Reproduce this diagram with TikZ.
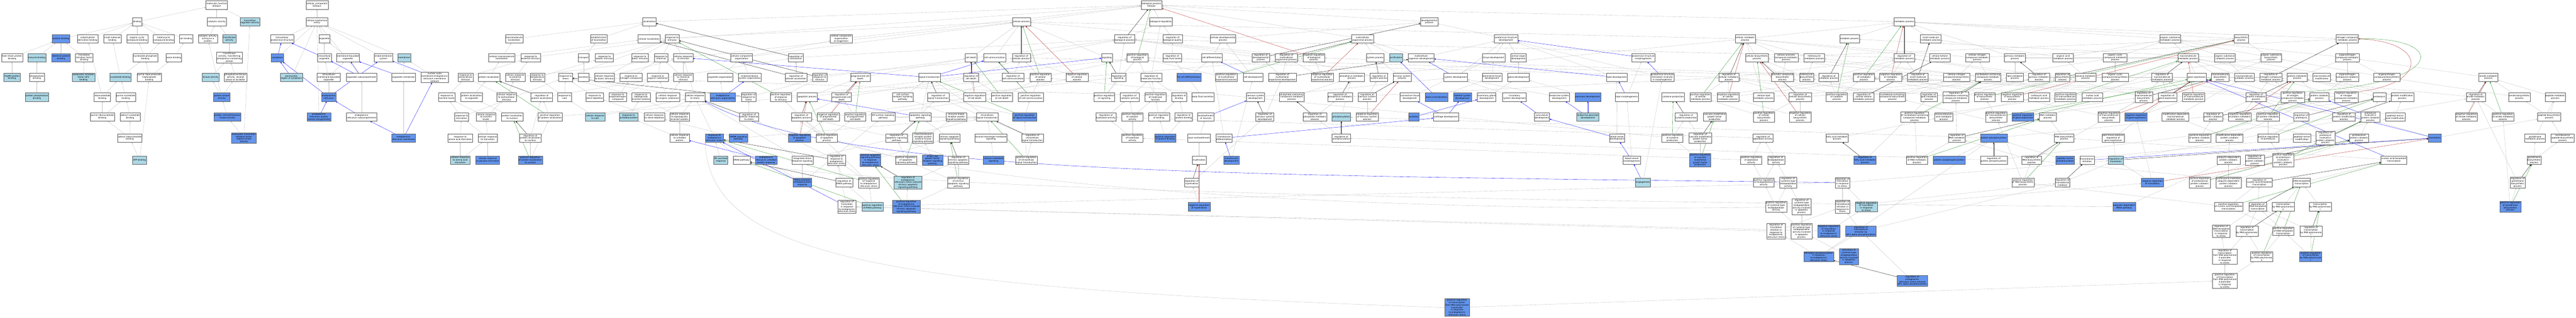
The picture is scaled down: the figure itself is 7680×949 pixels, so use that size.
\documentclass[tikz,border=0pt]{standalone}
\usepackage{fontspec}
\newfontfamily\gof{DejaVu Sans}
\usetikzlibrary{arrows.meta,backgrounds}
\definecolor{lightb}{HTML}{ADD8E6}
\definecolor{cornf}{HTML}{6495ED}
\definecolor{edgec}{RGB}{192,192,192}
\definecolor{egreen}{HTML}{228B22}
\definecolor{ered}{HTML}{B22222}
\newcommand{\gofnt}{\gof\fontsize{6.4}{7.3}\selectfont}
\tikzset{
 gonode/.style={draw=black!65, line width=0.7pt, fill=white, align=center, font=\gofnt, inner xsep=1.6pt, inner ysep=1.8pt, minimum height=25pt},
 lb/.style={gonode, fill=lightb},
 cb/.style={gonode, fill=cornf},
 egray/.style={draw=edgec, line width=0.55pt, -{Triangle[length=4.5pt,width=3.6pt]}},
 eblk/.style={egray, draw=black},
 eblu/.style={egray, draw=blue},
 egrn/.style={egray, draw=egreen},
 ered/.style={egray, draw=ered},
}
\begin{document}
\begin{tikzpicture}[x=1pt,y=-1pt]
\useasboundingbox (0,0) rectangle (7680,949);
% ---------------- molecular function ----------------
\node[gonode] (mf) at (646,15) {molecular\_function\\Eif2ak3};
\node[gonode] (bind) at (409,65) {binding};
\node[gonode] (cat) at (646,65) {catalytic activity};
\node[lb] (trreg) at (745,65) {translation\\regulator activity};
\node[cb] (pb) at (182,116) {protein binding};
\node[gonode] (cdb) at (261,116) {carbohydrate\\derivative binding};
\node[gonode] (smb) at (335,116) {small molecule\\binding};
\node[gonode] (occb) at (409,116) {organic cyclic\\compound binding};
\node[gonode] (hcb) at (488,116) {heterocyclic\\compound binding};
\node[gonode] (ionb) at (555,116) {ion binding};
\node[gonode] (catp) at (620,116) {catalytic activity,\\acting on a\\protein};
\node[lb] (trf) at (684,116) {transferase\\activity};
\node[gonode] (hspb) at (36,172) {heat shock protein\\binding};
\node[lb] (enzb) at (110,172) {enzyme binding};
\node[cb] (idpb) at (182,172) {identical protein\\binding};
\node[gonode] (tifb) at (251,172) {translation\\initiation factor\\binding};
\node[gonode] (npb) at (433,172) {nucleoside phosphate\\binding};
\node[gonode] (anb) at (518,172) {anion binding};
\node[gonode] (trfp) at (684,172) {transferase\\activity, transferring\\phosphorus-containing\\groups};
\node[lb] (hsp90) at (36,231) {Hsp90 protein\\binding};
\node[gonode] (phb) at (110,231) {phosphatase\\binding};
\node[lb] (eif2b) at (249,231) {eukaryotic initiation\\factor eIF2\\binding};
\node[lb] (ntb) at (359,231) {nucleotide binding};
\node[gonode] (prtb) at (445,231) {purine ribonucleoside\\triphosphate\\binding};
\node[lb] (kin) at (628,231) {kinase activity};
\node[gonode] (ptalc) at (702,231) {phosphotransferase\\activity, alcohol\\group as acceptor};
\node[lb] (pphb) at (110,290) {protein phosphatase\\binding};
\node[gonode] (rnb) at (305,290) {ribonucleotide\\binding};
\node[gonode] (pnb) at (375,290) {purine nucleotide\\binding};
\node[cb] (pka) at (661,290) {protein kinase\\activity};
\node[gonode] (prnb) at (305,349) {purine ribonucleotide\\binding};
\node[gonode] (adnb) at (388,349) {adenyl nucleotide\\binding};
\node[cb] (pstk) at (678,349) {protein serine/threonine\\kinase activity};
\node[gonode] (arnb) at (387,412) {adenyl ribonucleotide\\binding};
\node[cb] (eifk) at (727,412) {eukaryotic translation\\initiation factor\\2alpha kinase\\activity};
\node[lb] (atp) at (416,478) {ATP binding};
% ---------------- cellular component ----------------
\node[gonode] (cc) at (945,15) {cellular\_component\\Eif2ak3};
\node[gonode] (cae) at (945,65) {cellular anatomical\\entity};
\node[gonode] (ias) at (841,116) {intracellular\\anatomical structure};
\node[gonode] (org) at (967,116) {organelle};
\node[cb] (cyto) at (827,172) {cytoplasm};
\node[gonode] (iorg) at (967,172) {intracellular\\organelle};
\node[gonode] (mbo) at (1037,172) {membrane-bounded\\organelle};
\node[gonode] (ems) at (1143,172) {endomembrane\\system};
\node[lb] (mem) at (1205,172) {membrane};
\node[lb] (peri) at (869,231) {perinuclear\\region of cytoplasm};
\node[gonode] (imbo) at (980,231) {intracellular\\membrane-bounded\\organelle};
\node[gonode] (osc) at (1078,231) {organelle subcompartment};
\node[gonode] (omem) at (1203,231) {organelle membrane};
\node[gonode] (nomn) at (1296,231) {nuclear outer\\membrane-endoplasmic\\reticulum membrane\\network};
\node[cb] (er) at (980,290) {endoplasmic\\reticulum};
\node[cb] (erqc) at (951,349) {endoplasmic\\reticulum quality\\control compartment};
\node[gonode] (ersc) at (1078,349) {endoplasmic\\reticulum subcompartment};
\node[cb] (erm) at (1203,412) {endoplasmic\\reticulum membrane};
% ---------------- biological process ----------------
\node[gonode] (bproc) at (3433,15) {biological\_process\\Eif2ak3};
\node[gonode] (loc) at (1936,65) {localization};
\node[gonode] (cellproc) at (3045,65) {cellular process};
\node[gonode] (bioreg) at (3461,65) {biological regulation};
\node[gonode] (devp) at (4261,65) {developmental\\process};
\node[gonode] (metab) at (5677,65) {metabolic process};
% R2
\node[gonode] (macloc) at (1533,116) {macromolecule\\localization};
\node[gonode] (estloc) at (1785,116) {establishment\\of localization};
\node[gonode] (cellloc) at (1935,116) {cellular localization};
\node[gonode] (resp) at (2004,116) {response to\\stimulus};
\node[gonode] (ccob) at (2508,116) {cellular component\\organization\\or biogenesis};
\node[gonode] (regbp) at (3353,116) {regulation of\\biological process};
\node[gonode] (regbq) at (3496,116) {regulation of\\biological quality};
\node[gonode] (cdevp) at (3646,116) {cellular developmental\\process};
\node[gonode] (mcop) at (4062,116) {multicellular\\organismal process};
\node[gonode] (asd) at (4490,116) {anatomical structure\\development};
\node[gonode] (cmp) at (5203,116) {cellular metabolic\\process};
\node[gonode] (catab) at (5514,116) {catabolic process};
\node[gonode] (smmp) at (5756,116) {small molecule\\metabolic process};
\node[gonode] (osmp) at (6470,116) {organic substance\\metabolic process};
\node[gonode] (biosyn) at (6682,116) {biosynthetic\\process};
\node[gonode] (ncomp) at (6998,116) {nitrogen compound\\metabolic process};
% R3
\node[gonode] (cmacloc) at (1496,172) {cellular macromolecule\\localization};
\node[gonode] (rext) at (1582,172) {response to\\external stimulus};
\node[gonode] (transport) at (1740,172) {transport};
\node[gonode] (rabio) at (1802,172) {response to\\abiotic stimulus};
\node[gonode] (rbio) at (1908,172) {response to\\biotic stimulus};
\node[gonode] (rchem) at (1971,172) {response to\\chemical};
\node[gonode] (crs) at (2037,172) {cellular response\\to stimulus};
\node[gonode] (ccorg) at (2211,172) {cellular component\\organization};
\node[gonode] (regloc) at (2373,172) {regulation of\\localization};
\node[gonode] (celldeath) at (2895,172) {cell death};
\node[gonode] (cellcomm) at (2965,172) {cell communication};
\node[gonode] (regcp) at (3045,172) {regulation of\\cellular process};
\node[gonode] (signaling) at (3300,172) {signaling};
\node[gonode] (posbp) at (3391,172) {positive regulation\\of biological\\process};
\node[gonode] (regbfl) at (3495,172) {regulation of\\body fluid levels};
\node[gonode] (celldiff) at (3613,172) {cell differentiation};
\node[gonode] (regdev) at (3759,172) {regulation of\\developmental\\process};
\node[gonode] (regmop) at (3835,172) {regulation of\\multicellular\\organismal process};
\node[gonode] (negbp) at (3917,172) {negative regulation\\of biological\\process};
\node[gonode] (sysproc) at (4100,172) {system process};
\node[lb] (ossif) at (4162,172) {ossification};
\node[gonode] (mcod) at (4237,172) {multicellular\\organism development};
\node[gonode] (tissdev) at (4453,172) {tissue development};
\node[gonode] (aod) at (4527,172) {animal organ\\development};
\node[gonode] (asm) at (4899,172) {anatomical structure\\morphogenesis};
\node[gonode] (cbp) at (5238,172) {cellular biosynthetic\\process};
\node[gonode] (camp) at (5325,172) {cellular aromatic\\compound metabolic\\process};
\node[gonode] (hmp) at (5409,172) {heterocycle\\metabolic process};
\node[gonode] (regmp) at (5677,172) {regulation of\\metabolic process};
\node[gonode] (ckmp) at (5783,172) {cellular ketone\\metabolic process};
\node[gonode] (cncmp) at (5895,172) {cellular nitrogen\\compound metabolic\\process};
\node[gonode] (pmp) at (6007,172) {primary metabolic\\process};
\node[gonode] (oamp) at (6151,172) {organic acid\\metabolic process};
\node[gonode] (occmp) at (6306,172) {organic cyclic\\compound metabolic\\process};
\node[gonode] (macmp) at (6523,172) {macromolecule\\metabolic process};
\node[gonode] (oscat) at (6633,172) {organic substance\\catabolic process};
\node[gonode] (osbp) at (6771,172) {organic substance\\biosynthetic\\process};
\node[gonode] (onmp) at (6998,172) {organonitrogen\\compound metabolic\\process};
% R4
\node[gonode] (rextra) at (1388,231) {response to\\extracellular\\stimulus};
\node[gonode] (protloc) at (1458,231) {protein localization};
\node[gonode] (crext) at (1536,231) {cellular response\\to external\\stimulus};
\node[gonode] (rtemp) at (1602,231) {response to\\temperature\\stimulus};
\node[gonode] (rstress) at (1686,231) {response to\\stress};
\node[gonode] (secretion) at (1740,231) {secretion};
\node[gonode] (crbio) at (1802,231) {cellular response\\to biotic stimulus};
\node[gonode] (rnitro) at (1881,231) {response to\\nitrogen compound};
\node[gonode] (rorg) at (1961,231) {response to\\organic substance};
\node[gonode] (crchem) at (2037,231) {cellular response\\to chemical\\stimulus};
\node[gonode] (orgorg) at (2147,231) {organelle organization};
\node[gonode] (emsorg) at (2235,231) {endomembrane\\system organization};
\node[gonode] (regcloc) at (2373,231) {regulation of\\cellular localization};
\node[gonode] (regrs) at (2444,231) {regulation of\\response to\\stimulus};
\node[gonode] (pcd) at (2565,231) {programmed cell\\death};
\node[gonode] (sigtr) at (2771,231) {signal transduction};
\node[gonode] (regcd) at (2895,231) {regulation of\\cell death};
\node[gonode] (regcomm) at (3020,231) {regulation of\\cell communication};
\node[gonode] (posc) at (3102,231) {positive regulation\\of cellular\\process};
\node[gonode] (negc) at (3211,231) {negative regulation\\of cellular\\process};
\node[gonode] (regsig) at (3335,231) {regulation of\\signaling};
\node[gonode] (regmf) at (3432,231) {regulation of\\molecular function};
\node[cb] (fatcell) at (3544,231) {fat cell differentiation};
\node[gonode] (posmop) at (3656,231) {positive regulation\\of multicellular\\organismal process};
\node[gonode] (celldev) at (3736,231) {cell development};
\node[gonode] (regmod) at (3823,231) {regulation of\\multicellular\\organismal development};
\node[gonode] (negmop) at (3942,231) {negative regulation\\of multicellular\\organismal process};
\node[gonode] (phmp) at (4030,231) {phosphorus metabolic\\process};
\node[gonode] (regsysp) at (4111,231) {regulation of\\system process};
\node[gonode] (nsproc) at (4180,231) {nervous system\\process};
\node[gonode] (sysdev) at (4340,231) {system development};
\node[gonode] (biomin) at (4448,231) {biomineral tissue\\development};
\node[gonode] (gland) at (4527,231) {gland development};
\node[gonode] (tubedev) at (4820,231) {tube development};
\node[gonode] (asfim) at (4956,231) {anatomical structure\\formation involved\\in morphogenesis};
\node[gonode] (regcmp) at (5154,231) {regulation of\\cellular metabolic\\process};
\node[gonode] (acbp) at (5314,231) {aromatic compound\\biosynthetic\\process};
\node[gonode] (hbp) at (5386,231) {heterocycle\\biosynthetic\\process};
\node[gonode] (regcatab) at (5452,231) {regulation of\\catabolic process};
\node[gonode] (posmp) at (5557,231) {positive regulation\\of metabolic\\process};
\node[gonode] (negmp) at (5637,231) {negative regulation\\of metabolic\\process};
\node[gonode] (regsmm) at (5718,231) {regulation of\\small molecule\\metabolic process};
\node[gonode] (cncbp) at (5833,231) {cellular nitrogen\\compound biosynthetic\\process};
\node[gonode] (ncmp) at (5927,231) {nucleobase-containing\\compound metabolic\\process};
\node[gonode] (lipid) at (6007,231) {lipid metabolic\\process};
\node[gonode] (regpmp) at (6079,231) {regulation of\\primary metabolic\\process};
\node[gonode] (regbiosyn) at (6149,231) {regulation of\\biosynthetic\\process};
\node[gonode] (oxo) at (6218,231) {oxoacid metabolic\\process};
\node[gonode] (occbp) at (6306,231) {organic cyclic\\compound biosynthetic\\process};
\node[gonode] (regmacmp) at (6446,231) {regulation of\\macromolecule\\metabolic process};
\node[gonode] (ge) at (6549,231) {gene expression};
\node[gonode] (macbp) at (6619,231) {macromolecule\\biosynthetic\\process};
\node[gonode] (maccat) at (6691,231) {macromolecule\\catabolic process};
\node[gonode] (regncomp) at (6770,231) {regulation of\\nitrogen compound\\metabolic process};
\node[gonode] (protmp) at (6849,231) {protein metabolic\\process};
\node[gonode] (macmod) at (6922,231) {macromolecule\\modification};
\node[gonode] (oncat) at (6998,231) {organonitrogen\\compound catabolic\\process};
\node[gonode] (onbp) at (7116,231) {organonitrogen\\compound biosynthetic\\process};
\node[gonode] (amide) at (7419,231) {amide metabolic\\process};
% R5
\node[gonode] (rnut) at (1332,290) {response to\\nutrient levels};
\node[gonode] (plorg) at (1406,290) {protein localization\\to organelle};
\node[gonode] (crextra) at (1510,290) {cellular response\\to extracellular\\stimulus};
\node[gonode] (regploc) at (1615,290) {regulation of\\protein localization};
\node[gonode] (rcold) at (1683,290) {response to\\cold};
\node[gonode] (rsterol) at (1773,290) {response to\\sterol depletion};
\node[gonode] (rorgn) at (1842,290) {response to\\organonitrogen\\compound};
\node[gonode] (rtip) at (1911,290) {response to\\topologically\\incorrect protein};
\node[gonode] (crorg) at (1991,290) {cellular response\\to organic substance};
\node[gonode] (crstress) at (2072,290) {cellular response\\to stress};
\node[cb] (erorg) at (2155,290) {endoplasmic\\reticulum organization};
\node[gonode] (regrstress) at (2232,290) {regulation of\\response to\\stress};
\node[gonode] (posrs) at (2328,290) {positive regulation\\of response\\to stimulus};
\node[gonode] (apop) at (2407,290) {apoptotic process};
\node[gonode] (regpcd) at (2509,290) {regulation of\\programmed cell\\death};
\node[gonode] (csrsp) at (2691,290) {cell surface\\receptor signaling\\pathway};
\node[gonode] (regst) at (2797,290) {regulation of\\signal transduction};
\node[gonode] (negcd) at (2906,290) {negative regulation\\of cell death};
\node[gonode] (poscd) at (2987,290) {positive regulation\\of cell death};
\node[gonode] (poscomm) at (3073,290) {positive regulation\\of cell communication};
\node[gonode] (possig) at (3292,290) {positive regulation\\of signaling};
\node[gonode] (regcat) at (3368,290) {regulation of\\catalytic activity};
\node[gonode] (posmf) at (3445,290) {positive regulation\\of molecular\\function};
\node[gonode] (regbind) at (3515,290) {regulation of\\binding};
\node[gonode] (bfsec) at (3586,290) {body fluid secretion};
\node[gonode] (nsd) at (3743,290) {nervous system\\development};
\node[gonode] (pccm) at (3851,290) {phosphate-containing\\compound metabolic\\process};
\node[gonode] (regphmp) at (3995,290) {regulation of\\phosphorus metabolic\\process};
\node[gonode] (regnsp) at (4076,290) {regulation of\\nervous system\\process};
\node[gonode] (ctd) at (4203,290) {connective tissue\\development};
\node[cb] (bonemin) at (4283,290) {bone mineralization};
\node[cb] (skel) at (4360,290) {skeletal system\\development};
\node[gonode] (mammary) at (4432,290) {mammary gland\\development};
\node[gonode] (circ) at (4515,290) {circulatory\\system development};
\node[gonode] (endosys) at (4649,290) {endocrine system\\development};
\node[cb] (pancreas) at (4734,290) {pancreas development};
\node[gonode] (tubemorph) at (4850,290) {tube morphogenesis};
\node[gonode] (cytprod) at (4988,290) {cytokine production};
\node[gonode] (poscmp) at (5070,290) {positive regulation\\of cellular\\metabolic process};
\node[gonode] (negcmp) at (5152,290) {negative regulation\\of cellular\\metabolic process};
\node[gonode] (clmp) at (5258,290) {cellular lipid\\metabolic process};
\node[gonode] (regcbp) at (5367,290) {regulation of\\cellular biosynthetic\\process};
\node[gonode] (poscatab) at (5476,290) {positive regulation\\of catabolic\\process};
\node[gonode] (regckmp) at (5556,290) {regulation of\\cellular ketone\\metabolic process};
\node[gonode] (ncbp) at (5642,290) {nucleobase-containing\\compound biosynthetic\\process};
\node[gonode] (reglmp) at (5751,290) {regulation of\\lipid metabolic\\process};
\node[gonode] (regncmp) at (5831,290) {regulation of\\nucleobase-containing\\compound metabolic\\process};
\node[gonode] (posbiosyn) at (5917,290) {positive regulation\\of biosynthetic\\process};
\node[gonode] (negbiosyn) at (5999,290) {negative regulation\\of biosynthetic\\process};
\node[gonode] (carbox) at (6079,290) {carboxylic acid\\metabolic process};
\node[gonode] (posmacmp) at (6158,290) {positive regulation\\of macromolecule\\metabolic process};
\node[gonode] (nucacid) at (6238,290) {nucleic acid\\metabolic process};
\node[gonode] (regmacbp) at (6391,290) {regulation of\\macromolecule\\biosynthetic\\process};
\node[gonode] (regge) at (6462,290) {regulation of\\gene expression};
\node[gonode] (negmacmp) at (6540,290) {negative regulation\\of macromolecule\\metabolic process};
\node[gonode] (regprotmp) at (6726,290) {regulation of\\protein metabolic\\process};
\node[gonode] (posncomp) at (6835,290) {positive regulation\\of nitrogen\\compound metabolic\\process};
\node[gonode] (protcat) at (6915,290) {protein catabolic\\process};
\node[gonode] (negncomp) at (6995,290) {negative regulation\\of nitrogen\\compound metabolic\\process};
\node[gonode] (proteolysis) at (7094,290) {proteolysis};
\node[gonode] (protmod) at (7162,290) {protein modification\\process};
\node[gonode] (regamide) at (7381,290) {regulation of\\amide metabolic\\process};
\node[gonode] (amidebp) at (7511,290) {amide biosynthetic\\process};
\node[gonode] (peptmp) at (7618,290) {peptide metabolic\\process};
% R6
\node[gonode] (rstarv) at (1376,349) {response to\\starvation};
\node[gonode] (crnut) at (1449,349) {cellular response\\to nutrient\\levels};
\node[gonode] (plnuc) at (1527,349) {protein localization\\to nucleus};
\node[gonode] (posploc) at (1640,349) {positive regulation\\of protein localization};
\node[lb] (crcold) at (1774,349) {cellular response\\to cold};
\node[lb] (rup) at (1874,349) {response to\\unfolded protein};
\node[gonode] (crsterol) at (1951,349) {cellular response\\to sterol depletion};
\node[gonode] (crtip) at (2026,349) {cellular response\\to topologically\\incorrect protein};
\node[gonode] (regcrs) at (2233,349) {regulation of\\cellular response\\to stress};
\node[gonode] (regap) at (2389,349) {regulation of\\apoptotic process};
\node[gonode] (negpcd) at (2469,349) {negative regulation\\of programmed\\cell death};
\node[gonode] (pospcd) at (2550,349) {positive regulation\\of programmed\\cell death};
\node[gonode] (ernuc) at (2633,349) {ER-nucleus signaling\\pathway};
\node[gonode] (apsig) at (2744,349) {apoptotic signaling\\pathway};
\node[gonode] (elrp) at (2851,349) {enzyme-linked\\receptor protein\\signaling pathway};
\node[gonode] (ist) at (2943,349) {intracellular\\signal transduction};
\node[cb] (posst) at (3055,349) {positive regulation\\of signal transduction};
\node[gonode] (reghyd) at (3297,349) {regulation of\\hydrolase activity};
\node[gonode] (poscat) at (3376,349) {positive regulation\\of catalytic\\activity};
\node[gonode] (posbind) at (3455,349) {positive regulation\\of binding};
\node[gonode] (regpb) at (3529,349) {regulation of\\protein binding};
\node[gonode] (ensh) at (3595,349) {ensheathment\\of neurons};
\node[gonode] (regnsd) at (3771,349) {regulation of\\nervous system\\development};
\node[gonode] (regphosmp) at (3920,349) {regulation of\\phosphate metabolic\\process};
\node[lb] (phos) at (3999,349) {phosphorylation};
\node[gonode] (negnsp) at (4076,349) {negative regulation\\of nervous system\\process};
\node[cb] (lact) at (4215,349) {lactation};
\node[gonode] (cart) at (4311,349) {cartilage development};
\node[gonode] (vasc) at (4597,349) {vasculature\\development};
\node[lb] (endopanc) at (4734,349) {endocrine pancreas\\development};
\node[gonode] (regcyt) at (5027,349) {regulation of\\cytokine production};
\node[gonode] (vegfprod) at (5112,349) {vascular endothelial\\growth factor\\production};
\node[gonode] (poscbp) at (5259,349) {positive regulation\\of cellular\\biosynthetic\\process};
\node[gonode] (negcbp) at (5367,349) {negative regulation\\of cellular\\biosynthetic\\process};
\node[gonode] (posncmp) at (5708,349) {positive regulation\\of nucleobase-containing\\compound metabolic\\process};
\node[gonode] (mcamp) at (5795,349) {monocarboxylic\\acid metabolic\\process};
\node[gonode] (posmacbp) at (5951,349) {positive regulation\\of macromolecule\\biosynthetic\\process};
\node[cb] (posge) at (6031,349) {positive regulation\\of gene expression};
\node[gonode] (rnamp) at (6105,349) {RNA metabolic\\process};
\node[gonode] (negmacbp) at (6287,349) {negative regulation\\of macromolecule\\biosynthetic\\process};
\node[cb] (negge) at (6368,349) {negative regulation\\of gene expression};
\node[gonode] (mdmc) at (6486,349) {modification-dependent\\macromolecule\\catabolic process};
\node[gonode] (regprotcat) at (6598,349) {regulation of\\protein catabolic\\process};
\node[gonode] (negprotmp) at (6677,349) {negative regulation\\of protein metabolic\\process};
\node[gonode] (posprotmp) at (6762,349) {positive regulation\\of protein metabolic\\process};
\node[gonode] (regprot) at (6861,349) {regulation of\\proteolysis};
\node[gonode] (regprotmod) at (6988,349) {regulation of\\protein modification\\process};
\node[gonode] (pipc) at (7067,349) {proteolysis\\involved in\\protein catabolic\\process};
\node[gonode] (pam) at (7141,349) {peptidyl-amino\\acid modification};
\node[gonode] (negamide) at (7353,349) {negative regulation\\of amide metabolic\\process};
\node[gonode] (posamide) at (7462,349) {positive regulation\\of amide metabolic\\process};
\node[gonode] (peptbp) at (7600,349) {peptide biosynthetic\\process};
% R7
\node[gonode] (raas) at (1372,412) {response to\\amino acid starvation};
\node[gonode] (crstarv) at (1454,412) {cellular response\\to starvation};
\node[gonode] (regplnuc) at (1581,412) {regulation of\\protein localization\\to nucleus};
\node[gonode] (crup) at (2026,412) {cellular response\\to unfolded\\protein};
\node[cb] (rers) at (2130,412) {response to\\endoplasmic\\reticulum stress};
\node[cb] (srebp) at (2201,412) {SREBP signaling\\pathway};
\node[cb] (negap) at (2384,412) {negative regulation\\of apoptotic\\process};
\node[gonode] (posap) at (2465,412) {positive regulation\\of apoptotic\\process};
\node[gonode] (regaps) at (2673,412) {regulation of\\apoptotic signaling\\pathway};
\node[gonode] (tmrtk) at (2752,412) {transmembrane\\receptor protein\\tyrosine kinase\\signaling pathway};
\node[gonode] (iaps) at (2831,412) {intrinsic apoptotic\\signaling pathway};
\node[gonode] (smms) at (2954,412) {second-messenger-mediated\\signaling};
\node[gonode] (regist) at (3078,412) {regulation of\\intracellular\\signal transduction};
\node[gonode] (poshyd) at (3376,412) {positive regulation\\of hydrolase\\activity};
\node[cb] (pospb) at (3474,412) {positive regulation\\of protein binding};
\node[gonode] (axens) at (3575,412) {axon ensheathment};
\node[gonode] (chondiff) at (3649,412) {chondrocyte\\differentiation};
\node[gonode] (regphos) at (3999,412) {regulation of\\phosphorylation};
\node[gonode] (bvd) at (4821,412) {blood vessel\\development};
\node[gonode] (poscyt) at (4986,412) {positive regulation\\of cytokine\\production};
\node[gonode] (regvegf) at (5069,412) {regulation of\\vascular endothelial\\growth factor\\production};
\node[gonode] (regpep) at (5256,412) {regulation of\\peptidase activity};
\node[gonode] (famp) at (5477,412) {fatty acid metabolic\\process};
\node[gonode] (regrnamp) at (5834,412) {regulation of\\RNA metabolic\\process};
\node[cb] (protphos) at (5944,412) {protein phosphorylation};
\node[gonode] (rnabp) at (6154,412) {RNA biosynthetic\\process};
\node[gonode] (ptrge) at (6300,412) {post-transcriptional\\regulation of\\gene expression};
\node[gonode] (posprotcat) at (6558,412) {positive regulation\\of protein catabolic\\process};
\node[gonode] (mdpc) at (6647,412) {modification-dependent\\protein catabolic\\process};
\node[gonode] (posprot) at (6762,412) {positive regulation\\of proteolysis};
\node[gonode] (pserm) at (6863,412) {peptidyl-serine\\modification};
\node[gonode] (regpipc) at (6933,412) {regulation of\\proteolysis\\involved in\\protein catabolic\\process};
\node[gonode] (ppc) at (7033,412) {proteasomal\\protein catabolic\\process};
\node[cb] (translation) at (7259,412) {translation};
\node[gonode] (glump) at (7558,412) {glutathione\\metabolic process};
\node[gonode] (nrpbp) at (7640,412) {nonribosomal\\peptide biosynthetic\\process};
% R8
\node[lb] (craas) at (1372,478) {cellular response\\to amino acid\\starvation};
\node[cb] (crgs) at (1454,478) {cellular response\\to glucose starvation};
\node[cb] (posplnuc) at (1581,478) {positive regulation\\of protein localization\\to nucleus};
\node[lb] (erover) at (2149,478) {ER overload\\response};
\node[gonode] (erad) at (2211,478) {ERAD pathway};
\node[cb] (erupr) at (2284,478) {endoplasmic\\reticulum unfolded\\protein response};
\node[gonode] (isrs) at (2392,478) {integrated stress\\response signaling};
\node[gonode] (regrers) at (2494,478) {regulation of\\response to\\endoplasmic\\reticulum stress};
\node[cb] (iapser) at (2595,478) {intrinsic apoptotic\\signaling pathway\\in response\\to endoplasmic\\reticulum stress};
\node[gonode] (posaps) at (2701,478) {positive regulation\\of apoptotic\\signaling pathway};
\node[cb] (igfr) at (2780,478) {insulin-like\\growth factor\\receptor signaling\\pathway};
\node[gonode] (regiaps) at (2857,478) {regulation of\\intrinsic apoptotic\\signaling pathway};
\node[cb] (calms) at (2962,478) {calcium-mediated\\signaling};
\node[gonode] (posist) at (3060,478) {positive regulation\\of intracellular\\signal transduction};
\node[gonode] (myel) at (3575,478) {myelination};
\node[cb] (chondev) at (3671,478) {chondrocyte\\development};
\node[gonode] (bvm) at (4865,478) {blood vessel\\morphogenesis};
\node[cb] (posvegf) at (5069,478) {positive regulation\\of vascular\\endothelial\\growth factor\\production};
\node[gonode] (pospep) at (5221,478) {positive regulation\\of peptidase\\activity};
\node[gonode] (regendo) at (5295,478) {regulation of\\endopeptidase\\activity};
\node[cb] (regfamp) at (5560,478) {regulation of\\fatty acid metabolic\\process};
\node[gonode] (posrnamp) at (5715,478) {positive regulation\\of RNA metabolic\\process};
\node[cb] (protauto) at (5811,478) {protein autophosphorylation};
\node[gonode] (regprotphos) at (5944,478) {regulation of\\protein phosphorylation};
\node[gonode] (regrnabp) at (6057,478) {regulation of\\RNA biosynthetic\\process};
\node[cb] (pserphos) at (6157,478) {peptidyl-serine\\phosphorylation};
\node[gonode] (transinit) at (6222,478) {translational\\initiation};
\node[lb] (regtrans) at (6308,478) {regulation of\\translation};
\node[gonode] (ubdep) at (6644,478) {ubiquitin-dependent\\protein catabolic\\process};
\node[gonode] (regppc) at (6722,478) {regulation of\\proteasomal\\protein catabolic\\process};
\node[gonode] (pospipc) at (6807,478) {positive regulation\\of proteolysis\\involved in\\protein catabolic\\process};
\node[gonode] (nat) at (7137,478) {nucleic acid-templated\\transcription};
\node[gonode] (glubp) at (7555,478) {glutathione\\biosynthetic\\process};
% R9
\node[cb] (perk) at (2392,545) {PERK-mediated\\unfolded protein\\response};
\node[gonode] (regerad) at (2517,545) {regulation of\\ERAD pathway};
\node[gonode] (posrers) at (2590,545) {positive regulation\\of response\\to endoplasmic\\reticulum stress};
\node[lb] (regersiaps) at (2707,545) {regulation of\\endoplasmic\\reticulum stress-induced\\intrinsic apoptotic\\signaling pathway};
\node[gonode] (posiaps) at (2857,545) {positive regulation\\of intrinsic\\apoptotic signaling\\pathway};
\node[gonode] (regmyel) at (3553,545) {regulation of\\myelination};
\node[lb] (angio) at (4898,545) {angiogenesis};
\node[gonode] (posendo) at (5258,545) {positive regulation\\of endopeptidase\\activity};
\node[gonode] (regcysendo) at (5331,545) {regulation of\\cysteine-type\\endopeptidase\\activity};
\node[gonode] (regtrs) at (5493,545) {regulation of\\translation\\in response\\to stress};
\node[gonode] (posrnabp) at (6031,545) {positive regulation\\of RNA biosynthetic\\process};
\node[gonode] (regti) at (6149,545) {regulation of\\translational\\initiation};
\node[cb] (negtrans) at (6417,545) {negative regulation\\of translation};
\node[gonode] (posppc) at (6558,545) {positive regulation\\of proteasomal\\protein catabolic\\process};
\node[gonode] (pmudp) at (6644,545) {proteasome-mediated\\ubiquitin-dependent\\protein catabolic\\process};
\node[gonode] (regnat) at (6736,545) {regulation of\\nucleic acid-templated\\transcription};
\node[gonode] (dtt) at (6862,545) {DNA-templated\\transcription};
\node[gonode] (regglubp) at (7506,545) {regulation of\\glutathione\\biosynthetic\\process};
% R10
\node[gonode] (regtrers) at (2525,617) {regulation of\\translation\\in response\\to endoplasmic\\reticulum stress};
\node[lb] (poserad) at (2601,617) {positive regulation\\of ERAD pathway};
\node[cb] (posersiaps) at (2702,617) {positive regulation\\of endoplasmic\\reticulum stress-induced\\intrinsic apoptotic\\signaling pathway};
\node[cb] (negmyel) at (3575,617) {negative regulation\\of myelination};
\node[gonode] (poscysendo) at (5295,617) {positive regulation\\of cysteine-type\\endopeptidase\\activity};
\node[gonode] (regcysapop) at (5371,617) {regulation of\\cysteine-type\\endopeptidase\\activity involved\\in apoptotic\\process};
\node[gonode] (regtiss) at (5493,617) {regulation of\\translational\\initiation in\\response to\\stress};
\node[lb] (negtrs) at (5564,617) {negative regulation\\of translation\\in response\\to stress};
\node[cb] (ubierad) at (6333,617) {ubiquitin-dependent\\ERAD pathway};
\node[gonode] (posnat) at (6644,617) {positive regulation\\of nucleic acid-templated\\transcription};
\node[gonode] (regdtt) at (6731,617) {regulation of\\DNA-templated\\transcription};
\node[gonode] (trpol2) at (6807,617) {transcription\\by RNA polymerase\\II};
\node[gonode] (trpol1) at (6917,617) {transcription\\by RNA polymerase\\I};
\node[cb] (posglubp) at (7484,617) {positive regulation\\of glutathione\\biosynthetic\\process};
% R11
\node[gonode] (regtier) at (5295,690) {regulation of\\translation\\initiation in\\response to\\endoplasmic\\reticulum stress};
\node[gonode] (poscysapop) at (5371,690) {positive regulation\\of cysteine-type\\endopeptidase\\activity involved\\in apoptotic\\process};
\node[cb] (negtrer) at (5452,690) {negative regulation\\of translation\\in response\\to endoplasmic\\reticulum stress};
\node[cb] (regtieif) at (5548,690) {regulation of\\translational\\initiation by\\eIF2 alpha phosphorylation};
\node[gonode] (regdttstress) at (6622,690) {regulation of\\DNA-templated\\transcription\\in response\\to stress};
\node[gonode] (regtrpol2) at (6699,690) {regulation of\\transcription\\by RNA polymerase\\II};
\node[gonode] (posdtt) at (6807,690) {positive regulation\\of DNA-templated\\transcription};
\node[gonode] (regtrpol1) at (6890,690) {regulation of\\transcription\\by RNA polymerase\\I};
% R12-R14
\node[cb] (eifph) at (5422,766) {eIF2alpha phosphorylation\\in response\\to endoplasmic\\reticulum stress};
\node[cb] (actcys) at (5512,766) {activation of\\cysteine-type\\endopeptidase\\activity involved\\in apoptotic\\process};
\node[gonode] (regtrpol2stress) at (6633,766) {regulation of\\transcription\\from RNA polymerase\\II promoter\\in response\\to stress};
\node[gonode] (postrpol2) at (6743,766) {positive regulation\\of transcription\\by RNA polymerase\\II};
\node[cb] (postrpol1) at (6889,766) {positive regulation\\of transcription\\by RNA polymerase\\I};
\node[cb] (regerseif) at (5701,838) {regulation of\\endoplasmic\\reticulum stress-induced\\eIF2 alpha phosphorylation};
\node[gonode] (postrpol2stress) at (6633,838) {positive regulation\\of transcription\\from RNA polymerase\\II promoter\\in response\\to stress};
\node[cb] (posertr) at (4344,918) {positive regulation\\of transcription\\from RNA polymerase\\II promoter\\in response\\to endoplasmic\\reticulum stress};
% ---------------- edges ----------------
\begin{scope}[on background layer]
\fill[white] (0,0) rectangle (7680,949);
\foreach \a/\b in {bind/mf,cat/mf,trreg/mf,pb/bind,cdb/bind,smb/bind,occb/bind,hcb/bind,ionb/bind,catp/cat,trf/cat,hspb/pb,enzb/pb,idpb/pb,tifb/pb,npb/occb,npb/hcb,anb/ionb,trfp/trf,hsp90/hspb,phb/enzb,eif2b/tifb,ntb/npb,ntb/smb,prtb/npb,prtb/anb,kin/trfp,ptalc/trfp,pphb/phb,rnb/ntb,rnb/cdb,pnb/ntb,pka/kin,pka/ptalc,pka/catp,prnb/rnb,prnb/pnb,adnb/pnb,pstk/pka,arnb/prnb,arnb/adnb,eifk/pstk,eifk/trreg,atp/arnb,atp/prtb}
  \draw[egray] (\a) -- (\b);
\foreach \a/\b in {cae/cc,ias/cae,org/cae,cyto/cae,peri/cae,erqc/cae,osc/cae,ems/cae,mem/cae,iorg/org,mbo/org,imbo/iorg,imbo/mbo,omem/mem,nomn/mem,er/imbo,ersc/osc,erm/omem}
  \draw[egray] (\a) -- (\b);
\foreach \a/\b in {cyto/ias,iorg/ias,peri/cyto,osc/iorg,osc/mbo,omem/mbo,nomn/ems,er/cyto,er/ems,erqc/er,ersc/er,erm/ersc,erm/nomn}
  \draw[eblu] (\a) -- (\b);
% BP gray
\foreach \a/\b in {loc/bproc,resp/bproc,ccob/bproc,cellproc/bproc,bioreg/bproc,devp/bproc,mcop/bproc,metab/bproc,signaling/cellproc,regbp/bioreg,regbq/bioreg,regmf/bioreg,macloc/loc,estloc/loc,cellloc/loc,cellloc/cellproc,cmacloc/macloc,cmacloc/cellloc,rext/resp,transport/estloc,rabio/resp,rbio/resp,rchem/resp,crs/resp,crs/cellproc,ccorg/ccob,ccorg/cellproc,regloc/regbp,rextra/rext,protloc/cmacloc,crext/rext,crext/crs,rtemp/rabio,rstress/resp,secretion/transport,crbio/rbio,crbio/crs,rnitro/rchem,rorg/rchem,crchem/rchem,crchem/crs,orgorg/ccorg,emsorg/ccorg,regcloc/regloc,regcloc/regcp,regrs/regbp,pcd/celldeath,celldeath/cellproc,cellcomm/cellproc,regcp/regbp,posc/regcp,posc/posbp,negc/regcp,negc/negbp}
  \draw[egray] (\a) -- (\b);
\foreach \a/\b in {rnut/rextra,plorg/protloc,crextra/rextra,crextra/crext,regploc/regloc,rcold/rtemp,rcold/rstress,rsterol/rstress,rorgn/rnitro,rorgn/rorg,rtip/rstress,crorg/rorg,crorg/crchem,crstress/rstress,crstress/crs,erorg/orgorg,regrstress/regrs,posrs/regrs,posrs/posbp,apop/pcd,regpcd/regcd,csrsp/sigtr,regst/regsig,regst/regcomm,regcd/regcp,negcd/regcd,negcd/negc,poscd/regcd,poscd/posc,regcomm/regcp,poscomm/regcomm,poscomm/posc}
  \draw[egray] (\a) -- (\b);
\foreach \a/\b in {rstarv/rnut,rstarv/rstress,crnut/rnut,crnut/crextra,plnuc/plorg,posploc/regploc,posploc/posc,crcold/rcold,crcold/crstress,rup/rtip,crsterol/rsterol,crsterol/crstress,crtip/rtip,crtip/crstress,regcrs/regrstress,regap/regpcd,negpcd/regpcd,negpcd/negcd,pospcd/regpcd,pospcd/poscd,ernuc/ist,apsig/sigtr,elrp/csrsp,ist/sigtr,posst/regst,posst/poscomm}
  \draw[egray] (\a) -- (\b);
\foreach \a/\b in {raas/rstarv,crstarv/rstarv,crstarv/crnut,regplnuc/regploc,crup/rup,crup/crtip,rers/crstress,srebp/ist,srebp/crsterol,negap/regap,negap/negpcd,posap/regap,posap/pospcd,regaps/regap,regaps/regst,tmrtk/elrp,iaps/apsig,smms/ist,regist/regst,craas/raas,craas/crstarv,crgs/crstarv,posplnuc/regplnuc,posplnuc/posploc,erover/rers,erad/rers,erupr/rers,isrs/ist,isrs/crstress,regrers/regcrs,iapser/iaps,posaps/regaps,posaps/posap,igfr/tmrtk,regiaps/regaps,calms/smms,posist/regist,posist/posst}
  \draw[egray] (\a) -- (\b);
\foreach \a/\b in {perk/erupr,perk/isrs,perk/ernuc,regerad/regrers,posrers/regrers,posrers/posrs,regersiaps/regiaps,posiaps/regiaps,posiaps/posaps,regtrers/regrers,regtrers/regtrs,poserad/regerad,poserad/posrers,posersiaps/regersiaps,posersiaps/posiaps}
  \draw[egray] (\a) -- (\b);
\foreach \a/\b in {cdevp/devp,cdevp/cellproc,regbfl/regbq,celldiff/cdevp,regdev/regbp,regmop/regbp,regsig/regbp,fatcell/celldiff,posmop/regmop,posmop/posbp,celldev/cdevp,regmod/regmop,regmod/regdev,possig/regsig,possig/posbp,regcat/regmf,posmf/regmf,posmf/posbp,regbind/regmf,bfsec/regbfl,bfsec/secretion,nsd/sysdev,pccm/phmp,reghyd/regcat,poscat/regcat,poscat/posmf,posbind/regbind,posbind/posmf,regpb/regbind,regnsd/regmod,poshyd/reghyd,poshyd/poscat,pospb/posbind,pospb/regpb,axens/ensh,chondiff/celldiff,myel/axens,chondev/celldev,regmyel/regnsd,negmyel/regmyel}
  \draw[egray] (\a) -- (\b);
\foreach \a/\b in {asd/devp,sysproc/mcop,ossif/mcop,mcod/asd,mcod/mcop,tissdev/asd,aod/asd,negmop/regmop,negmop/negbp,phmp/cmp,regsysp/regmop,nsproc/sysproc,sysdev/asd,biomin/tissdev,gland/aod,regphmp/regcmp,regnsp/regsysp,ctd/tissdev,bonemin/biomin,mammary/gland,regphosmp/regphmp,phos/phmp,negnsp/regnsp,regphos/regphosmp,negbp/regbp,asfim/asd,tubedev/asd,circ/sysdev,endosys/sysdev,pancreas/gland,tubemorph/asm,poscmp/regcmp,poscmp/posmp,negcmp/regcmp,negcmp/negmp,bvd/tubedev,poscyt/regcyt,poscyt/posc,regvegf/regcyt,bvm/tubemorph,posvegf/regvegf,posvegf/poscyt,angio/asfim}
  \draw[egray] (\a) -- (\b);
\foreach \a/\b in {cmp/metab,cmp/cellproc,catab/metab,smmp/metab,cbp/cmp,cbp/biosyn,camp/cmp,hmp/cmp,regmp/regbp,ckmp/cmp,regcmp/regmp,regcmp/regcp,acbp/camp,acbp/cbp,hbp/hmp,hbp/cbp,regcatab/regmp,posmp/regmp,posmp/posbp,negmp/regmp,negmp/negbp,regsmm/regmp,clmp/cmp,clmp/lipid,regcbp/regcmp,regcbp/regbiosyn,poscatab/regcatab,poscatab/posmp,regckmp/regcmp,ncbp/ncmp,ncbp/acbp,ncbp/hbp,ncbp/cncbp,reglmp/regpmp,poscbp/regcbp,poscbp/poscmp,negcbp/regcbp,negcbp/negcmp,posncmp/regncmp,posncmp/posmacmp,regpep/reghyd,famp/mcamp,pospep/regpep,pospep/poshyd,regendo/regpep,regfamp/reglmp,posrnamp/regrnamp,posrnamp/posncmp}
  \draw[egray] (\a) -- (\b);
\foreach \a/\b in {posendo/regendo,posendo/pospep,regcysendo/regendo,regtrs/regtrans,poscysendo/regcysendo,poscysendo/posendo,regcysapop/regcysendo,regtiss/regtrs,regtiss/regti,negtrs/regtrs,negtrs/negtrans,regtier/regtiss,regtier/regtrers,poscysapop/regcysapop,poscysapop/poscysendo,negtrer/regtrers,negtrer/negtrs,regtieif/regti,regtieif/regtiss,eifph/regtier,eifph/regtieif,eifph/protphos,actcys/poscysapop,regerseif/regtieif}
  \draw[egray] (\a) -- (\b);
\draw[egray] (regcysapop.west) .. controls (4200,640) and (2600,560) .. (regap.south);
\foreach \a/\b in {cncmp/cmp,cncmp/ncomp,pmp/metab,oamp/smmp,oamp/osmp,occmp/osmp,cncbp/cncmp,cncbp/cbp,ncmp/camp,ncmp/hmp,ncmp/cncmp,ncmp/occmp,lipid/pmp,regpmp/regmp,regbiosyn/regmp,oxo/oamp,occbp/occmp,occbp/osbp,regncmp/regpmp,regncmp/regcmp,posbiosyn/regbiosyn,posbiosyn/posmp,negbiosyn/regbiosyn,negbiosyn/negmp,carbox/oxo,posmacmp/regmacmp,posmacmp/posmp,nucacid/ncmp,nucacid/macmp,regmacbp/regmacmp,regmacbp/regbiosyn,mcamp/carbox,posmacbp/regmacbp,posmacbp/posbiosyn,posge/regge,posge/posmacmp,rnamp/nucacid,negmacbp/regmacbp,negmacbp/negbiosyn,negge/regge,negge/negmacmp,regrnamp/regncmp,protphos/phos,protphos/protmod,rnabp/rnamp,rnabp/ncbp,ptrge/regge,protauto/protphos,regprotphos/regphos,regprotphos/regprotmod,regrnabp/regrnamp,regrnabp/regmacbp,pserphos/protphos,pserphos/pserm,regtrans/ptrge,regtrans/regamide,negtrans/regtrans,negtrans/negge,posrnabp/regrnabp,posrnabp/posmacbp,regti/regtrans,ubierad/ubdep}
  \draw[egray] (\a) -- (\b);
\draw[egray] (ubierad.west) .. controls (4200,600) and (2700,560) .. (erad.south east);
\foreach \a/\b in {osmp/metab,biosyn/metab,ncomp/metab,macmp/pmp,macmp/osmp,oscat/osmp,oscat/catab,osbp/osmp,osbp/biosyn,onmp/ncomp,onmp/osmp,regmacmp/regpmp,ge/macmp,macbp/macmp,macbp/osbp,maccat/macmp,maccat/oscat,regncomp/regpmp,protmp/onmp,protmp/macmp,macmod/macmp,oncat/onmp,oncat/oscat,onbp/onmp,onbp/osbp,regge/regmacmp,negmacmp/regmacmp,negmacmp/negmp,regprotmp/regncomp,regprotmp/regmacmp,posncomp/regncomp,posncomp/posmp,protcat/protmp,protcat/maccat,protcat/oncat,negncomp/regncomp,negncomp/negmp,proteolysis/protmp,protmod/macmod,protmod/protmp,mdmc/maccat,regprotcat/regprotmp,negprotmp/regprotmp,negprotmp/negncomp,posprotmp/regprotmp,posprotmp/posncomp,regprot/regprotmp,regprotmod/regprotmp,pipc/proteolysis,pam/protmod,posprotcat/regprotcat,posprotcat/posprotmp,mdpc/mdmc,mdpc/protcat,posprot/regprot,posprot/posprotmp,pserm/pam,regpipc/regprot,regpipc/regprotcat,ppc/pipc}
  \draw[egray] (\a) -- (\b);
\foreach \a/\b in {translation/peptbp,translation/macbp,ubdep/mdpc,regppc/regpipc,pospipc/regpipc,pospipc/posprot,nat/rnabp,posppc/regppc,posppc/pospipc,pmudp/ubdep,pmudp/ppc,regnat/regrnabp,dtt/nat,posnat/regnat,posnat/posrnabp,regdtt/regnat,trpol2/dtt,trpol1/dtt,regdttstress/regdtt,regtrpol2/regdtt,posdtt/regdtt,posdtt/posnat,regtrpol1/regdtt,regtrpol2stress/regdttstress,regtrpol2stress/regtrpol2,postrpol2/regtrpol2,postrpol2/posdtt,postrpol1/regtrpol1,postrpol1/posdtt,postrpol2stress/regtrpol2stress,postrpol2stress/postrpol2,posertr/postrpol2stress,amide/onmp,regamide/regncomp,amidebp/amide,amidebp/onbp,peptmp/amide,negamide/regamide,posamide/regamide,peptbp/amidebp,peptbp/peptmp,glump/peptmp,nrpbp/peptbp,glubp/glump,glubp/nrpbp,regglubp/regamide,posglubp/regglubp,posglubp/posamide}
  \draw[egray] (\a) -- (\b);
\draw[egray] (posertr.west) .. controls (2600,860) and (2120,760) .. (rers.south west);
% BP black (regulates)
\foreach \a/\b in {regloc/loc,regcloc/cellloc,regrs/resp,regploc/protloc,regplnuc/plnuc,regrstress/rstress,regcrs/crstress,regpcd/pcd,regap/apop,regcd/celldeath,regcomm/cellcomm,regcp/cellproc,regst/sigtr,regaps/apsig,regiaps/iaps,regist/ist,regersiaps/iapser,regrers/rers,regerad/erad,regbp/bproc,regsig/signaling,regdev/devp,regmop/mcop,regmod/mcod,regnsd/nsd,regmyel/myel,regsysp/sysproc,regphmp/phmp,regnsp/nsproc,regphosmp/pccm,regphos/phos,regcyt/cytprod,regvegf/vegfprod,regcmp/cmp,regcbp/cbp,regcatab/catab,regmp/metab,regsmm/smmp,regckmp/ckmp,regfamp/famp,regerseif/eifph,regncmp/ncmp,regpmp/pmp,regbiosyn/biosyn,regrnamp/rnamp,regrnabp/rnabp,regprotphos/protphos,regti/transinit,regtrans/translation,regmacmp/macmp,regge/ge,regmacbp/macbp,regncomp/ncomp,regprotmp/protmp,regprotcat/protcat,regprot/proteolysis,regprotmod/protmod,regpipc/pipc,regppc/ppc,regnat/nat,regdtt/dtt,regtrpol2/trpol2,regtrpol1/trpol1,regamide/amide,regglubp/glubp}
  \draw[eblk] (\a) -- (\b);
% BP green (positively regulates)
\foreach \a/\b in {posploc/protloc,posplnuc/plnuc,posrs/resp,pospcd/pcd,posap/apop,poscd/celldeath,poscomm/cellcomm,posc/cellproc,posst/sigtr,posaps/apsig,posiaps/iaps,posist/ist,posersiaps/iapser,posrers/rers,poserad/erad,posbp/bproc,possig/signaling,posmop/mcop,poscyt/cytprod,posvegf/vegfprod,poscmp/cmp,poscbp/cbp,poscatab/catab,posmp/metab,posncmp/ncmp,posbiosyn/biosyn,posmacmp/macmp,posge/ge,posmacbp/macbp,posrnamp/rnamp,posrnabp/rnabp,posprotmp/protmp,posprotcat/protcat,posprot/proteolysis,pospipc/pipc,posppc/ppc,posnat/nat,posdtt/dtt,postrpol2/trpol2,postrpol1/trpol1,posamide/amide,posglubp/glubp}
  \draw[egrn] (\a) -- (\b);
\draw[egrn] (posncomp.north east) .. controls (7300,250) and (7300,110) .. (ncomp.east);
% BP red (negatively regulates)
\foreach \a/\b in {negap/apop,negpcd/pcd,negcd/celldeath,negc/cellproc,negbp/bproc,negmop/mcop,negnsp/nsproc,negmyel/myel,negcmp/cmp,negcbp/cbp,negmp/metab,negbiosyn/biosyn,negmacmp/macmp,negge/ge,negmacbp/macbp,negtrans/translation,negprotmp/protmp,negamide/amide}
  \draw[ered] (\a) -- (\b);
\draw[ered] (negncomp.north east) .. controls (7240,250) and (7240,125) .. (ncomp.east);
% BP blue (part of)
\foreach \a/\b in {sigtr/crs,sigtr/cellcomm,sigtr/signaling,erorg/emsorg,apsig/apop,erupr/crup,regtrers/rers,celldev/celldiff,ensh/nsd,chondev/chondiff,chondiff/cart,bonemin/ossif,sysdev/mcod,tubedev/mcod,cart/ctd,cart/skel,lact/mammary,asm/asd,asfim/asm,tubemorph/tubedev,vasc/circ,bvd/vasc,bvm/bvd,angio/bvm,endopanc/endosys,endopanc/pancreas,pipc/protcat,transinit/translation,translation/ge,nat/ge}
  \draw[eblu] (\a) -- (\b);
\draw[eblu] (regtrs.west) .. controls (3600,522) and (2500,520) .. (crstress.south east);
\end{scope}
\end{tikzpicture}
\end{document}
